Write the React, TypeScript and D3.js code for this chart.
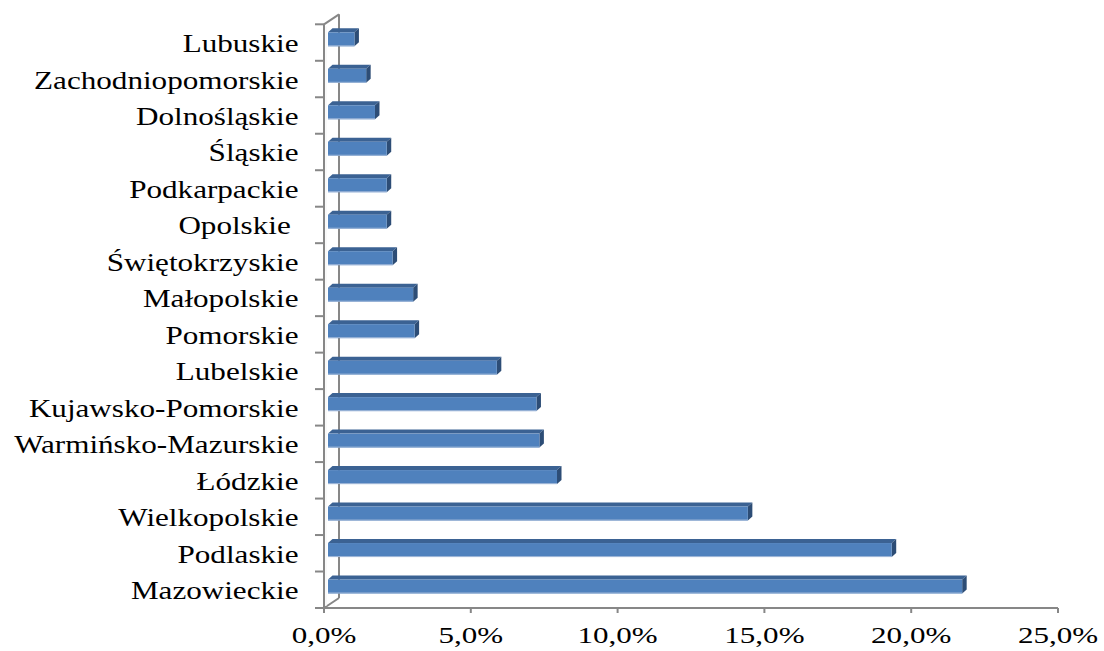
import React from "react";
import * as d3 from "d3";

// Regions, top to bottom
const regions = [
  "Lubuskie",
  "Zachodniopomorskie",
  "Dolnośląskie",
  "Śląskie",
  "Podkarpackie",
  "Opolskie ",
  "Świętokrzyskie",
  "Małopolskie",
  "Pomorskie",
  "Lubelskie",
  "Kujawsko-Pomorskie",
  "Warmińsko-Mazurskie",
  "Łódzkie",
  "Wielkopolskie",
  "Podlaskie",
  "Mazowieckie",
];

// Share of each region, in percent
const shares = [0.9, 1.3, 1.6, 2.0, 2.0, 2.0, 2.2, 2.9, 2.95, 5.75, 7.1, 7.2, 7.8, 14.3, 19.2, 21.6];

const xTicks = [0, 5, 10, 15, 20, 25];

const W = 1104;
const H = 651;

// 3D geometry
const FLOOR_DX = 15; // wall depth offset
const FLOOR_DY = -10;
const BAR_SHIFT = 4; // bar front plane offset from axis plane
const BAR_DX = 4.5; // bar depth
const BAR_DY = -4;
const BAR_TOP = 8; // front face offset inside the band
const BAR_H = 14;

export default function App() {
  const x = d3.scaleLinear().domain([0, 25]).range([324, 1058]);
  const y = d3.scaleBand<string>().domain(regions).range([24.3, 608]).padding(0);
  const fmt = (v: number) => v.toFixed(1).replace(".", ",") + "%";

  const axisColor = "#878787";
  const x0 = x(0);
  const yTop = y.range()[0];
  const yBot = y.range()[1];

  return (
    <svg
      width={W}
      height={H}
      style={{ position: "absolute", left: 0, top: 0, background: "#fff" }}
    >
      {/* wall and floor outline */}
      <g stroke={axisColor} strokeWidth={2} fill="none">
        <line x1={x0} y1={yTop} x2={x0} y2={yBot} />
        <line x1={x0 + FLOOR_DX} y1={yTop + FLOOR_DY} x2={x0 + FLOOR_DX} y2={yBot + FLOOR_DY} />
        <line x1={x0} y1={yTop} x2={x0 + FLOOR_DX} y2={yTop + FLOOR_DY} />
        <line x1={x0} y1={yBot} x2={x0 + FLOOR_DX} y2={yBot + FLOOR_DY} />
        <line x1={x0} y1={yBot} x2={x(25)} y2={yBot} />
        {regions.map((r) => (
          <line key={r} x1={x0 - 9} y1={y(r)!} x2={x0} y2={y(r)!} />
        ))}
        <line x1={x0 - 9} y1={yBot} x2={x0} y2={yBot} />
        {xTicks.map((t) => (
          <line key={t} x1={x(t)} y1={yBot} x2={x(t)} y2={yBot + 5} />
        ))}
      </g>
      <line x1={x0 + 2} y1={yTop + 2} x2={x0 + 2} y2={yBot - 2} stroke="#f4f4f4" strokeWidth={1} />

      {/* bars */}
      {regions.map((r, i) => {
        const v = shares[i];
        const fx0 = x(0) + BAR_SHIFT;
        const fx1 = x(v) + BAR_SHIFT;
        const fy0 = y(r)! + BAR_TOP;
        const fy1 = fy0 + BAR_H;
        const top = `M${fx0},${fy0} L${fx0 + BAR_DX},${fy0 + BAR_DY} L${fx1 + BAR_DX},${fy0 + BAR_DY} L${fx1},${fy0} Z`;
        const side = `M${fx1},${fy0} L${fx1 + BAR_DX},${fy0 + BAR_DY} L${fx1 + BAR_DX},${fy1 + BAR_DY} L${fx1},${fy1} Z`;
        return (
          <g key={r}>
            <path d={top} fill="#3b6293" />
            <path d={side} fill="#2d4d76" />
            <rect x={fx0} y={fy0} width={fx1 - fx0} height={BAR_H} fill="#4f81bd" />
            <line x1={fx0} y1={fy1 - 0.5} x2={fx1} y2={fy1 - 0.5} stroke="#9fb7d8" strokeWidth={1} />
          </g>
        );
      })}

      {/* category labels */}
      <g fontFamily="'Liberation Serif', 'Times New Roman', serif" fontSize={24.5} fill="#000">
        {regions.map((r) => (
          <text
            key={r}
            transform={`translate(298.5, ${y(r)! + y.bandwidth() / 2 + 9.5}) scale(1.27, 1)`}
            textAnchor="end"
            style={{ whiteSpace: "pre" }}
          >
            {r}
          </text>
        ))}
      </g>

      {/* value axis labels */}
      <g fontFamily="'Liberation Serif', 'Times New Roman', serif" fontSize={22.5} fill="#000">
        {xTicks.map((t) => (
          <text
            key={t}
            transform={`translate(${x(t)}, 643) scale(1.38, 1)`}
            textAnchor="middle"
          >
            {fmt(t)}
          </text>
        ))}
      </g>
    </svg>
  );
}
